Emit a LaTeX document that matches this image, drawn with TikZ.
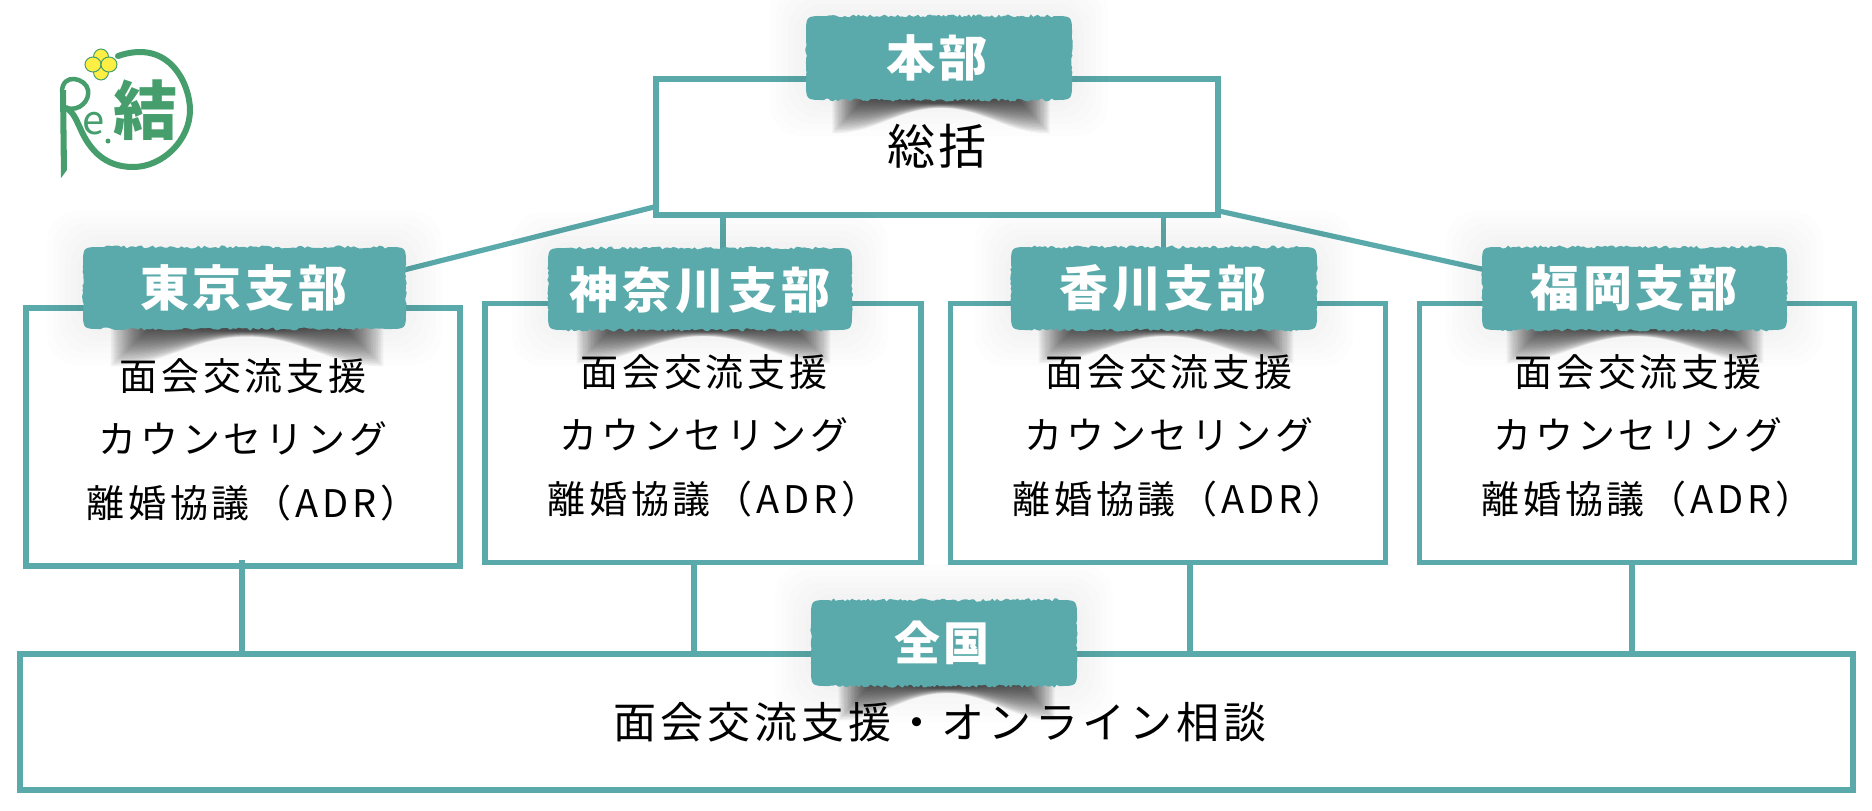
\documentclass[tikz,border=0pt]{standalone}
\usepackage{fontspec}
\newfontfamily\jp[LetterSpace=8]{Noto Sans CJK JP}
\newfontfamily\jpb[LetterSpace=10]{Noto Sans CJK JP}
\newfontfamily\jpw[LetterSpace=9]{Noto Sans CJK JP}
\newfontfamily\jpnarrow{Noto Sans CJK JP}
\definecolor{tealA}{HTML}{5AAAAB}
\definecolor{greenA}{HTML}{459E6C}
\definecolor{yellowA}{HTML}{FFEE44}
\def\px{0.5pt}
\tikzset{
  x=0.5pt,y=-0.5pt,
  orgbox/.style={draw=tealA,line width=5.2*\px,inner sep=0pt,outer sep=0pt},
  link/.style={draw=tealA,line width=5.2*\px},
  labeltext/.style={text=white,inner sep=0pt,font=\jp\bfseries\fontsize{24.5pt}{24pt}\selectfont},
  bodytext/.style={text=black,inner sep=0pt,align=center,font=\jpb\fontsize{19pt}{31.8pt}\selectfont},
  wide/.style={text=black,inner sep=0pt,font=\jpw\fontsize{21.5pt}{24pt}\selectfont},
  logoline/.style={draw=greenA,line width=6*\px,line cap=round},
  leaf/.style={fill=yellowA,draw=greenA,line width=1*\px},
}
% rough teal plate: x1 y1 x2 y2
\newcommand\roughplate[4]{%
  \foreach \g in {36,30,24,18,12,6}{%
    \fill[black,opacity=.007,rounded corners=30*\px] (#1-\g,#2-\g) rectangle (#3+\g,#4+\g);}
  \fill[tealA] (#1,#2+18) .. controls (#1,#2) .. (#1+18,#2)
    \foreach \n in {1,...,99}{ -- ({#1+18+\n/100*(#3-#1-36)},{#2+1.6*rand}) }
    -- (#3-18,#2) .. controls (#3,#2) .. (#3,#2+18)
    \foreach \n in {1,...,19}{ -- ({#3+0.8*rand},{#2+18+\n/20*(#4-#2-36)}) }
    -- (#3,#4-18) .. controls (#3,#4) .. (#3-18,#4)
    \foreach \n in {1,...,99}{ -- ({#3-18-\n/100*(#3-#1-36)},{#4+1.6*rand}) }
    -- (#1+18,#4) .. controls (#1,#4) .. (#1,#4-18)
    \foreach \n in {1,...,19}{ -- ({#1+0.8*rand},{#4-18-\n/20*(#4-#2-36)}) }
    -- cycle;
}
% arched shadow below a plate: xleft xright ytop height
\newcommand\archshadow[4]{%
  \foreach \t in {0.04,0.08,...,1.0}{%
    \pgfmathsetmacro\xL{#1+(1-\t)*0.16*(#2-#1)}%
    \pgfmathsetmacro\xR{#2-(1-\t)*0.16*(#2-#1)}%
    \pgfmathsetmacro\xM{(#1+#2)/2}%
    \pgfmathsetmacro\wd{\xR-\xL}%
    \pgfmathsetmacro\yE{#3+\t*#4}%
    \pgfmathsetmacro\yC{#3+6+\t*#4*0.14}%
    \fill[black,opacity=.048]
     (\xL,#3) -- (\xL,\yE) .. controls (\xL+0.2*\wd,\yE) and (\xM-0.2*\wd,\yC) .. (\xM,\yC)
      .. controls (\xM+0.2*\wd,\yC) and (\xR-0.2*\wd,\yE) .. (\xR,\yE) -- (\xR,#3) -- cycle;
  }%
}
\newcommand\adrline{\hspace*{9.5pt}離婚協議（ADR）}
\begin{document}
\begin{tikzpicture}
\useasboundingbox (0,0) rectangle (1872,810);
\pgfmathsetseed{11}

% boxes
\node[orgbox,minimum width=562*\px,minimum height=136*\px] (hq) at (937,147) {};
\node[orgbox,minimum width=434*\px,minimum height=258*\px] (tokyo) at (243,437) {};
\node[orgbox,minimum width=436*\px,minimum height=259*\px] (kanagawa) at (703,433) {};
\node[orgbox,minimum width=435*\px,minimum height=259*\px] (kagawa) at (1168,433) {};
\node[orgbox,minimum width=435*\px,minimum height=259*\px] (fukuoka) at (1637,433) {};
\node[orgbox,minimum width=1833*\px,minimum height=136*\px] (nation) at (936.5,722) {};

% connector ends
\coordinate (hqL) at (654,207);
\coordinate (hqR) at (1219,211);
\coordinate (tokyoIn) at (396,272);
\coordinate (fukuokaIn) at (1495,272);
\coordinate (hqKana) at (723,215);
\coordinate (kanaTop) at (723,260);
\coordinate (hqKaga) at (1163.5,215);
\coordinate (kagaTop) at (1163.5,260);
\coordinate (s1) at (242,560);
\coordinate (s2) at (694,562);
\coordinate (s3) at (1190,562);
\coordinate (s4) at (1632,563);
\coordinate (e1) at (242,657);
\coordinate (e2) at (694,657);
\coordinate (e3) at (1190,657);
\coordinate (e4) at (1632,657);
\draw[link] (hqL) -- (tokyoIn);
\draw[link] (hqR) -- (fukuokaIn);
\draw[link] (hqKana) -- (kanaTop);
\draw[link] (hqKaga) -- (kagaTop);
\draw[link] (s1) -- (e1);
\draw[link] (s2) -- (e2);
\draw[link] (s3) -- (e3);
\draw[link] (s4) -- (e4);

% shadows and plates
\archshadow{831}{1051}{97}{38}
\roughplate{806}{16}{1072}{100}
\archshadow{109}{385}{325}{43}
\roughplate{83}{247}{406}{329}
\archshadow{575}{832}{325}{40}
\roughplate{548}{248}{852}{330}
\archshadow{1037}{1295}{325}{40}
\roughplate{1011}{247}{1317}{330}
\archshadow{1505}{1765}{325}{40}
\roughplate{1482}{247}{1787}{330}
\archshadow{837}{1056}{682}{40}
\roughplate{811}{600}{1077}{686}

% labels
\node[labeltext] (hqlab) at (937,58) {本部};
\node[labeltext] (tokyolab) at (244,288) {東京支部};
\node[labeltext] (kanalab) at (700,290) {神奈川支部};
\node[labeltext] (kagalab) at (1163,288) {香川支部};
\node[labeltext] (fukulab) at (1634,288) {福岡支部};
\node[labeltext,font=\jp\bfseries\fontsize{23pt}{24pt}\selectfont] (nationlab) at (942,643) {全国};

% body text
\node[text=black,inner sep=0pt,font=\jp\fontsize{24pt}{24pt}\selectfont] (hqbody) at (937,146) {総括};
\node[bodytext] (tokyobody) at (243,439.5) {面会交流支援\\カウンセリング\\\adrline};
\node[bodytext] (kanabody) at (704,435.5) {面会交流支援\\カウンセリング\\\adrline};
\node[bodytext] (kagabody) at (1169,435.5) {面会交流支援\\カウンセリング\\\adrline};
\node[bodytext] (fukubody) at (1638,435.5) {面会交流支援\\カウンセリング\\\adrline};
\node[wide] (nationbody) at (940,722) {面会交流支援・オンライン相談};

% logo
\draw[logoline] (118,56) .. controls (170,38) and (190,85) .. (190,110)
  .. controls (190,140) and (163,167) .. (133,167)
  .. controls (105,167) and (90,150) .. (81,130)
  .. controls (77,122) and (74,112) .. (66,108);
\draw[logoline,line width=4.5*\px] (66,108) .. controls (80,112) and (90,100) .. (88,90)
  .. controls (86,78) and (62,72) .. (62,92);
\fill[greenA] (60,90) -- (66,90) -- (67,170) -- (61,178) -- cycle;
\draw[leaf] (101,57) ellipse [x radius=7.5,y radius=8];
\draw[leaf] (101,72) ellipse [x radius=7.5,y radius=8];
\draw[leaf] (93,64.5) ellipse [x radius=8,y radius=7.5];
\draw[leaf] (109,64.5) ellipse [x radius=8,y radius=7.5];
\node[text=greenA,inner sep=0pt,font=\jpnarrow\fontsize{20pt}{20pt}\selectfont] (logoe) at (94,124) {e};
\fill[greenA] (108,141) circle [radius=2.5];
\node[text=greenA,inner sep=0pt,font=\jpnarrow\bfseries\fontsize{32pt}{32pt}\selectfont] (logomark) at (145,110) {結};
\end{tikzpicture}
\end{document}
